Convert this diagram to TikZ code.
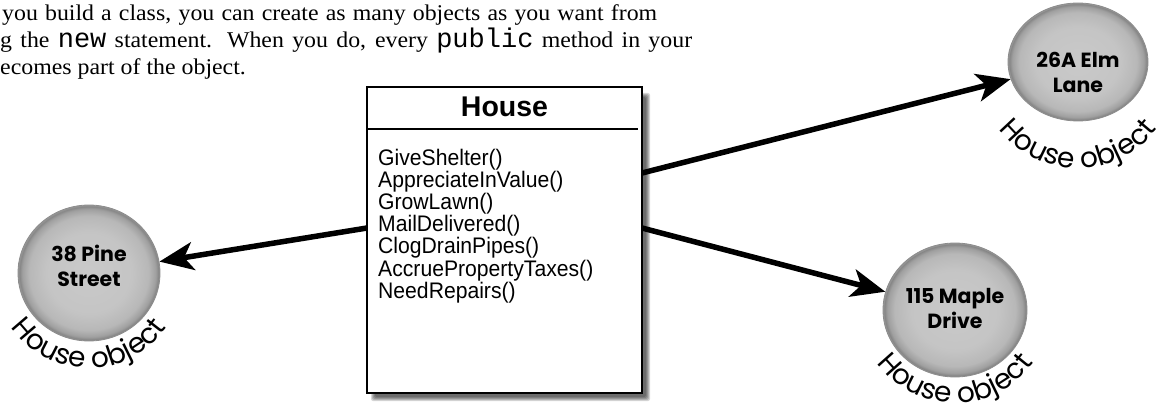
\documentclass[tikz,border=0pt]{standalone}
\usepackage{fontspec}
\setmainfont[FakeStretch=1.06]{Liberation Serif}
\newfontfamily\monofont{Liberation Mono}
\newfontfamily\umlfont[FakeStretch=0.94]{Liberation Sans}
\newfontfamily\titlefont{Liberation Sans}
\newfontfamily\handfont{Poppins}
\newcommand{\mytt}[1]{{\monofont\fontsize{27}{27}\selectfont #1}}
\usetikzlibrary{arrows.meta,decorations.text,shapes.geometric}
\pgfdeclareradialshading{disc}{\pgfpointorigin}{color(0bp)=(gray!42); color(15bp)=(gray!46); color(21bp)=(gray!56); color(23.5bp)=(gray!75); color(24.5bp)=(gray!95); color(25bp)=(gray!80); color(50bp)=(gray!80)}
\tikzset{
  para/.style={anchor=base west, inner sep=0pt, font=\fontsize{22.5}{27}\selectfont},
  method/.style={anchor=base west, inner sep=0pt, font=\umlfont\fontsize{22.5}{22.5}\selectfont},
  obj/.style={ellipse, shading=disc, draw=gray!90, line width=0.8pt, inner sep=0pt},
  objlabel/.style={align=center, inner sep=0pt, font=\handfont\bfseries\fontsize{20.5}{25}\selectfont},
  conn/.style={line width=5.5pt, -{Stealth[length=34pt,width=28pt,inset=9pt]}},
  objtext/.style={decorate, decoration={text along path, text align=center,
     text={|\handfont\fontsize{28}{28}\selectfont|House object}}}
}
\begin{document}
\begin{tikzpicture}[x=1pt,y=1pt]
\useasboundingbox (0,0) rectangle (1167,-409);
% paragraph
\node[para] (p1) at (2,-21) {\hbox to 655pt{you build a class, you can create as many objects as you want from}};
\node[para] (p2) at (0,-48) {\hbox to 692pt{g the \mytt{new} statement. When you do, every \mytt{public} method in your}};
\node[para] (p3) at (0,-74.5) {ecomes part of the object.};
% class box shadow
\foreach \k in {0,...,4}{
  \fill[black, opacity=0.16, rounded corners=2pt]
    (373+\k-2, -95-\k+2) rectangle (648-\k+2, -399+\k-2);
}
\node[draw=black, line width=1.3pt, fill=white, minimum width=275, minimum height=306, inner sep=0pt] (house) at (504.5,-240) {};
\node[font=\titlefont\bfseries\fontsize{28.5}{28.5}\selectfont, anchor=base, inner sep=0pt] (title) at (504.5,-117) {House};
\coordinate (d1) at (367,-129);
\coordinate (d2) at (638,-129);
\draw[line width=1.3pt] (d1) -- (d2);
\node[method] (m1) at (378,-165) {GiveShelter()};
\node[method] (m2) at (378,-187.2) {AppreciateInValue()};
\node[method] (m3) at (378,-209.4) {GrowLawn()};
\node[method] (m4) at (378,-231.6) {MailDelivered()};
\node[method] (m5) at (378,-253.8) {ClogDrainPipes()};
\node[method] (m6) at (378,-276) {AccruePropertyTaxes()};
\node[method] (m7) at (378,-298.2) {NeedRepairs()};
% objects
\node[obj, minimum width=142, minimum height=136] (pine) at (89,-273) {};
\node[objlabel] (pinel) at (89,-266) {38 Pine\\Street};
\node[obj, minimum width=140, minimum height=118] (elm) at (1078,-62) {};
\node[objlabel] (elml) at (1078,-72) {26A Elm\\Lane};
\node[obj, minimum width=144, minimum height=134] (maple) at (955,-310) {};
\node[objlabel] (maplel) at (955,-308) {115 Maple\\Drive};
% curved labels
\path[objtext] (89,-273) ++(195:95) arc[start angle=195, end angle=345, radius=95];
\path[objtext] (1078,-68) ++(195:100) arc[start angle=195, end angle=345, radius=100];
\path[objtext] (955,-306) ++(195:97) arc[start angle=195, end angle=345, radius=97];
% connectors
\coordinate (s1) at (367,-228);
\coordinate (s2) at (642,-173);
\coordinate (s3) at (642,-228);
\draw[conn] (s1) -- (pine);
\draw[conn] (s2) -- (elm);
\draw[conn] (s3) -- (maple);
\end{tikzpicture}
\end{document}
